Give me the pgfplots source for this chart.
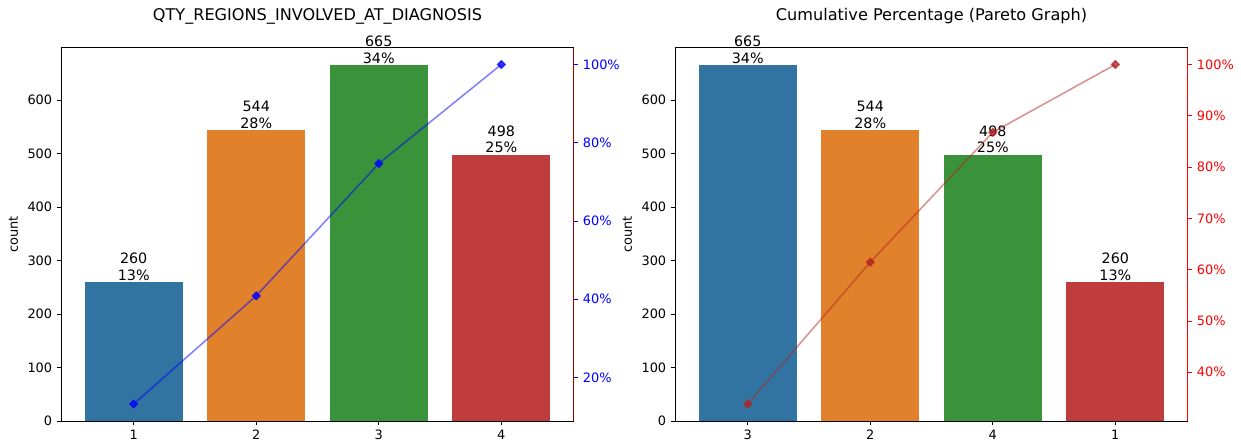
\documentclass[border=0pt]{standalone}
\usepackage{fontspec}
\setmainfont{DejaVu Sans}
\usepackage{pgfplots}
\pgfplotsset{compat=1.18}
\definecolor{c1}{HTML}{3274A1}
\definecolor{c2}{HTML}{E1812C}
\definecolor{c3}{HTML}{3A923A}
\definecolor{c4}{HTML}{C03D3E}
\definecolor{spinered}{HTML}{A00000}
\definecolor{linered}{HTML}{B22222}

\pgfplotsset{
 base/.style={scale only axis, width=368.6pt, height=268.9pt, clip=false,
   xmin=-0.589, xmax=3.589,
   tick align=outside, major tick length=3.2pt,
   tick label style={font=\fontsize{9.3}{11}\selectfont},
   /pgf/number format/assume math mode=true,
 },
 prim/.style={base, ymin=0, ymax=698.25, ytick={0,100,...,600}, xtick={0,1,2,3},
   xtick pos=bottom, ytick pos=left,
   axis line style={line width=0.6pt},
   every tick/.style={black, line width=0.6pt},
   ylabel=count, ylabel style={font=\fontsize{9.3}{11}\selectfont},
   title style={font=\fontsize{11.6}{13}\selectfont, at={(0.5,1)}, anchor=base, yshift=13.3pt},
   every node near coord/.append style={align=center, anchor=south, font=\fontsize{10.3}{12}\selectfont, inner sep=1pt, black}},
 sec/.style={base, axis x line=none, axis y line*=right,
   yticklabel={\pgfmathprintnumber{\tick}\%}},
 bars/.style={ybar, bar width=0.8, bar shift=0pt, draw=none, nodes near coords={#1}},
}

\begin{document}
\begin{tikzpicture}
\path[use as bounding box] (0,0) rectangle (893.52pt,321.84pt);

% ---------- Left panel ----------
\begin{axis}[prim, at={(44.3pt,18.72pt)}, anchor=south west,
  xticklabels={1,2,3,4}, title={QTY\_REGIONS\_INVOLVED\_AT\_DIAGNOSIS}]
\addplot[bars={260\\13\%}, fill=c1] coordinates {(0,260)};
\addplot[bars={544\\28\%}, fill=c2] coordinates {(1,544)};
\addplot[bars={665\\34\%}, fill=c3] coordinates {(2,665)};
\addplot[bars={498\\25\%}, fill=c4] coordinates {(3,498)};
\end{axis}
\begin{axis}[sec, at={(44.3pt,18.72pt)}, anchor=south west,
  ymin=8.88, ymax=104.34, ytick={20,40,60,80,100},
  y axis line style={spinered, line width=0.6pt},
  every tick/.style={blue, line width=0.6pt},
  yticklabel style={text=blue}]
\addplot[blue, opacity=0.5, line width=1.1pt, mark=square*, mark size=1.85pt,
  mark options={rotate=45, opacity=0.75}] coordinates {(0,13.218)(1,40.874)(2,74.682)(3,100)};
\end{axis}

% ---------- Right panel ----------
\begin{axis}[prim, at={(486.4pt,18.72pt)}, anchor=south west,
  xticklabels={3,2,4,1}, title={Cumulative Percentage (Pareto Graph)}]
\addplot[bars={665\\34\%}, fill=c1] coordinates {(0,665)};
\addplot[bars={544\\28\%}, fill=c2] coordinates {(1,544)};
\addplot[bars={498\\25\%}, fill=c3] coordinates {(2,498)};
\addplot[bars={260\\13\%}, fill=c4] coordinates {(3,260)};
\end{axis}
\begin{axis}[sec, at={(486.4pt,18.72pt)}, anchor=south west,
  ymin=30.5, ymax=103.31, ytick={40,50,...,100},
  y axis line style={red, line width=0.6pt},
  every tick/.style={red, line width=0.6pt},
  yticklabel style={text=red}]
\addplot[linered, opacity=0.5, line width=1.1pt, mark=square*, mark size=1.85pt,
  mark options={rotate=45, opacity=0.75}] coordinates {(0,33.808)(1,61.464)(2,86.782)(3,100)};
\end{axis}
\end{tikzpicture}
\end{document}
